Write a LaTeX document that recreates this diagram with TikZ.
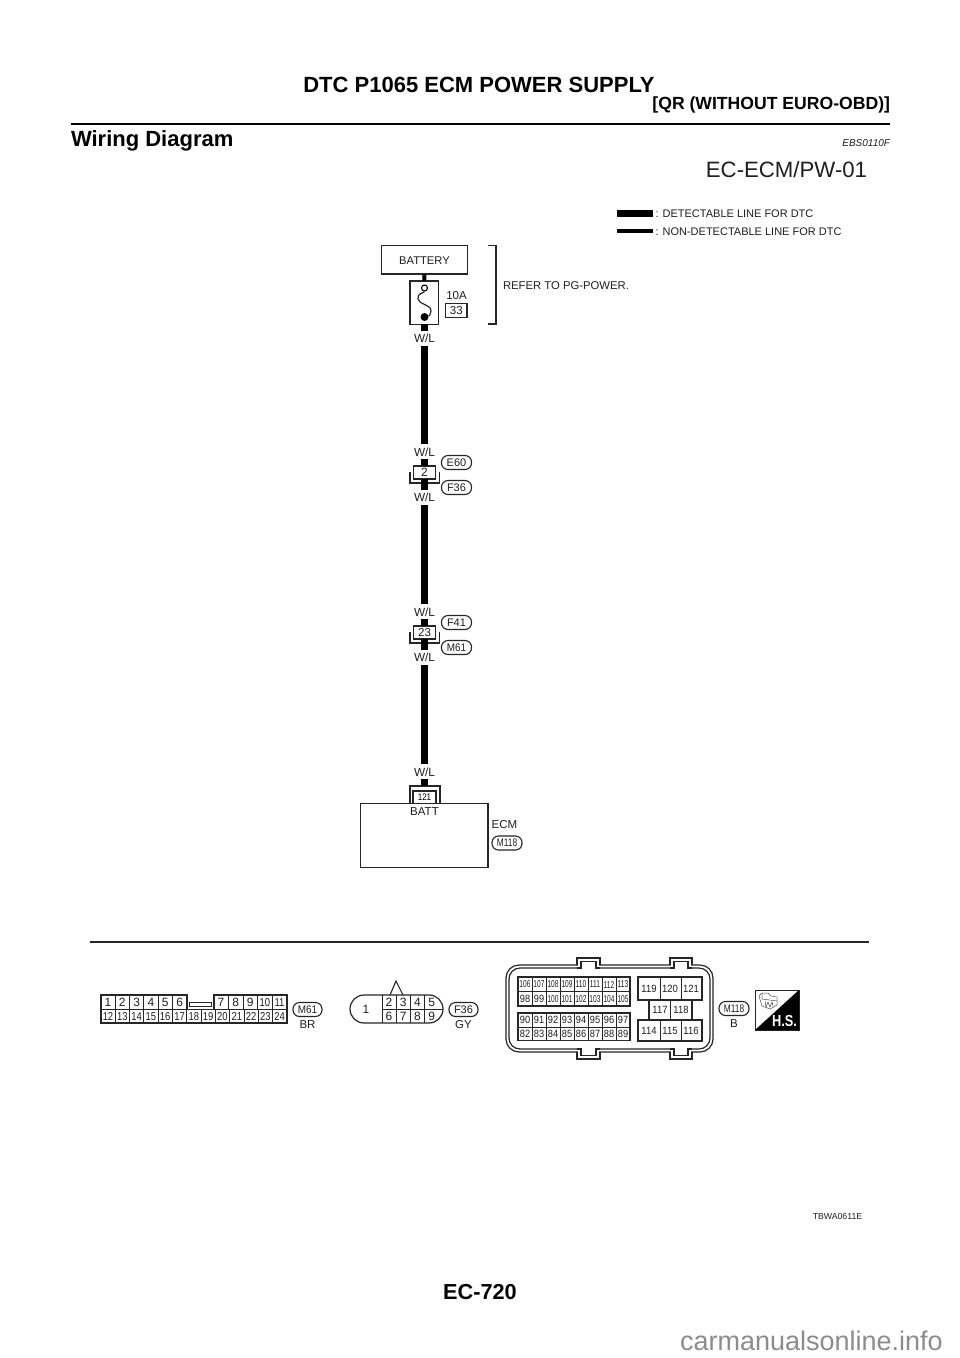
\documentclass[tikz,border=0pt]{standalone}
\usepackage{fontspec}
\setmainfont{Liberation Sans}
\tikzset{
  x=1pt,y=-1pt,
  txt/.style={inner sep=0pt,outer sep=0pt,text=black!88,font=\fontsize{#1}{#1}\selectfont},
  txt/.default=10,
  box/.style={draw=black!85,line width=1.1pt,inner sep=0pt,outer sep=0pt,fill=white,anchor=north west},
  tag/.style={draw=black!85,line width=1.1pt,rounded corners=6.5pt,minimum width=30pt,minimum height=14pt,inner sep=0pt,font=\fontsize{11}{11}\selectfont,text=black!88},
  thick wire/.style={line width=7pt,draw=black},
  thin wire/.style={line width=3.5pt,draw=black},
  cell/.style={draw=black!85,line width=1pt},
  outline/.style={draw=black!85,line width=1.2pt},
  num/.style={inner sep=0pt,text=black!88,font=\fontsize{#1}{#1}\selectfont},
  num/.default=10,
  hd/.style={inner sep=0pt,outer sep=0pt,text=black,font=\bfseries\fontsize{#1}{#1}\selectfont},
}
\begin{document}
\begin{tikzpicture}
\useasboundingbox (0,0) rectangle (960,1358);
\fill[white] (0,0) rectangle (960,1358);
% header
\node[hd=22] (title) at (479,85) {DTC P1065 ECM POWER SUPPLY};
\node[hd=17.6,anchor=east] (sub) at (890,105) {[QR (WITHOUT EURO-OBD)]};
\draw[line width=2.6pt] (71,124) -- (890,124);
\node[hd=22,anchor=west] (wd) at (71,141) {Wiring Diagram};
\node[txt=10,anchor=east,font=\itshape\fontsize{10}{10}\selectfont] (ebs) at (890,143) {EBS0110F};
\node[txt=22.2] (ecpw) at (786.5,170) {EC-ECM/PW-01};
% legend
\coordinate (l1a) at (617,213); \coordinate (l1b) at (653,213);
\coordinate (l2a) at (617,231); \coordinate (l2b) at (653,231);
\draw[thick wire] (l1a) -- (l1b);
\draw[thin wire] (l2a) -- (l2b);
\node[txt=11,anchor=west] (leg1) at (655.5,214) {: DETECTABLE LINE FOR DTC};
\node[txt=11,anchor=west] (leg2) at (655.5,232) {: NON-DETECTABLE LINE FOR DTC};
% battery, fuse
\node[box,minimum width=86pt,minimum height=28.5pt] (bat) at (381.5,245.5) {};
\node[txt=11.2] (batt) at (424.5,260.5) {BATTERY};
\node[box,minimum width=28.5pt,minimum height=43.5pt] (fuse) at (410,281) {};
\node[draw=black,line width=1.1pt,fill=white,circle,minimum size=6pt,inner sep=0pt] (fa) at (424.5,288) {};
\node[fill=black,circle,minimum size=8pt,inner sep=0pt] (fb) at (424.5,317) {};
\draw[line width=1.2pt,black!85] (fa.south) .. controls (424,293) and (417,293) .. (418,299) .. controls (419,305) and (431,304) .. (431,311) .. controls (431,314) and (429,316) .. (fb);
\draw[line width=4pt] (bat.south) -- (fuse.north);
\node[txt=11.5] (a10) at (456.5,296) {10A};
\node[box,minimum width=21.5pt,minimum height=14pt,txt=11.5] (f33) at (445.5,303.5) {33};
% bracket
\coordinate (b1) at (488,245.5); \coordinate (b2) at (496,245.5); \coordinate (b3) at (496,324); \coordinate (b4) at (488,324);
\draw[line width=1.1pt,black!85] (b1) -- (b2) -- (b3) -- (b4);
\node[txt=11.3,anchor=west] (ref) at (503,285.5) {REFER TO PG-POWER.};
% ecm
\node[box,minimum width=127.5pt,minimum height=64pt] (ecm) at (360.5,803.5) {};
\node[txt=11.5] (battl) at (424.5,811.5) {BATT};
\node[txt=11.5] (ecml) at (504.5,825) {ECM};
\node[tag,minimum width=30pt] (m118a) at (507,843) {\scalebox{.76}[1]{M118}};
% in-line connectors
\node[box,minimum width=22pt,minimum height=13pt,txt=12] (c2) at (413.5,466) {2};
\node[box,minimum width=22pt,minimum height=13pt,txt=11.5] (c23) at (413.5,626) {23};
\node[box,minimum width=23pt,minimum height=12.5pt] (c121) at (413,791) {\scalebox{.85}[1]{\fontsize{9.5}{9.5}\selectfont 121}};
\coordinate (c2b) at (424.5,483); \coordinate (c23b) at (424.5,643); \coordinate (c121t) at (424.5,786);
\draw[line width=1.1pt,black!85] (410,472) -- (410,483) -- (439.5,483) -- (439.5,472);
\draw[line width=1.1pt,black!85] (410,632) -- (410,643) -- (439.5,643) -- (439.5,632);
\draw[line width=1.1pt,black!85] (410,803) -- (410,786) -- (440,786) -- (440,803);
% wires
\coordinate (w0a) at (424.5,324); \coordinate (w0b) at (424.5,331);
\coordinate (w1a) at (424.5,346); \coordinate (w1b) at (424.5,444);
\coordinate (w2a) at (424.5,505); \coordinate (w2b) at (424.5,604);
\coordinate (w3a) at (424.5,665); \coordinate (w3b) at (424.5,764);
\coordinate (t2) at (424.5,459); \coordinate (d2) at (424.5,490);
\coordinate (t23) at (424.5,619); \coordinate (d23) at (424.5,650);
\coordinate (t121) at (424.5,779);
\draw[thick wire] (w0a) -- (w0b);
\draw[thick wire] (w1a) -- (w1b);
\draw[thick wire] (w2a) -- (w2b);
\draw[thick wire] (w3a) -- (w3b);
\draw[thick wire] (t2) -- (c2.north);
\draw[thick wire] (c2.south) -- (d2);
\draw[thick wire] (t23) -- (c23.north);
\draw[thick wire] (c23.south) -- (d23);
\draw[thick wire] (t121) -- (c121t);
\foreach \n/\y in {wl1/338,wl2/452,wl3/497,wl4/612,wl5/657,wl6/772}
  \node[txt=11.8] (\n) at (424.5,\y) {W/L};
\node[tag] (e60) at (456.5,462.5) {E60};
\node[tag] (f36a) at (456.5,487.5) {F36};
\node[tag] (f41) at (456.5,622.5) {F41};
\node[tag] (m61a) at (456.5,647.5) {\scalebox{.9}[1]{M61}};
% rule
\draw[line width=1.1pt,black!85] (90,942) -- (869,942);
% M61 connector
\draw[outline] (101,1023) -- (101,995) -- (187,995) -- (187,1009.5) -- (214,1009.5) -- (214,995) -- (287,995) -- (287,1023) -- cycle;
\foreach \i [count=\c from 0] in {1,...,6}{
  \draw[cell] ({101+14.33*\i},995) -- ({101+14.33*\i},1009.5);
  \node[num=12] (ma\i) at ({108+14.33*\c},1002.5) {\i};
}
\foreach \i [count=\c from 0] in {7,...,11}{
  \draw[cell] ({214+14.6*\c},995) -- ({214+14.6*\c},1009.5);
}
\foreach \i [count=\c from 0] in {7,8,9}
  \node[num=12] (ma\i) at ({221+14.6*\c},1002.5) {\i};
\foreach \i [count=\c from 3] in {10,11}
  \node[num=11.5,xscale=.82] (ma\i) at ({221+14.6*\c},1002.5) {\i};
\draw[cell] (101,1009.5) -- (287,1009.5);
\foreach \i [count=\c from 0] in {12,...,24}{
  \ifnum\c>0 \draw[cell] ({101+14.31*\c},1009.5) -- ({101+14.31*\c},1023);\fi
  \node[num=11.5,xscale=.82] (mb\i) at ({108+14.31*\c},1016.5) {\i};
}
\draw[cell] (189.5,1002) rectangle (211.5,1006);
\node[tag,minimum width=29pt] (m61b) at (307.5,1009.5) {\scalebox{.9}[1]{M61}};
\node[txt=11.5] (br) at (307.5,1025) {BR};
% F36 connector
\draw[outline] (382,995) -- (364,995) arc[start angle=270,end angle=90,radius=14] -- (429,1023) arc[start angle=90,end angle=-90,radius=14] -- cycle;
\draw[line width=1.1pt,black!85] (390,995) -- (396,981) -- (403,995);
\draw[cell] (382,1009) -- (443,1009);
\foreach \c in {0,1,2,3}{
  \draw[cell] ({382+14.3*\c},995) -- ({382+14.3*\c},1023);
}
\node[num=12] (f1) at (366,1009.5) {1};
\foreach \i [count=\c from 0] in {2,3,4,5}{
  \node[num=12] (fa\i) at ({389+14.2*\c},1002.5) {\i};
  \pgfmathtruncatemacro{\j}{\i+4}
  \node[num=12] (fb\j) at ({389+14.2*\c},1016) {\j};
}
\node[tag,minimum width=29pt] (f36b) at (463.5,1009.5) {F36};
\node[txt=11.5] (gy) at (463.5,1025) {GY};
% M118 connector
\draw[outline,rounded corners=13pt] (506,965) rectangle (713,1052);
\draw[outline,rounded corners=11pt] (509,968) rectangle (710,1049);
\foreach \x/\X in {577/600,670/692}{
  \fill[white] (\x+.6,964) rectangle (\X-.6,969.5);
  \fill[white] (\x+.6,1047.5) rectangle (\X-.6,1053);
  \draw[outline] (\x,965) -- (\x,958) -- (\X,958) -- (\X,965);
  \draw[outline] (\x,1052) -- (\x,1059) -- (\X,1059) -- (\X,1052);
  \draw[outline] (\x,968) -- (\x+4,968) -- (\x+4,961.5) -- (\X-4,961.5) -- (\X-4,968) -- (\X,968);
  \draw[outline] (\x,1049) -- (\x+4,1049) -- (\x+4,1055.5) -- (\X-4,1055.5) -- (\X-4,1049) -- (\X,1049);
}
\draw[outline] (518,977) rectangle (630,1006);
\draw[outline] (518,1013) rectangle (630,1040.5);
\draw[cell] (518,991.5) -- (630,991.5);
\draw[cell] (518,1027) -- (630,1027);
\foreach \i in {1,...,7}{
  \draw[cell] ({518+14*\i},977) -- ({518+14*\i},1006);
  \draw[cell] ({518+14*\i},1013) -- ({518+14*\i},1040.5);
}
\foreach \i [count=\c from 0] in {106,...,113}
  \node[num=10,xscale=.66] (r\i) at ({525+14*\c},984.5) {\i};
\foreach \i [count=\c from 0] in {98,99}
  \node[num=10.5,xscale=.88] (r\i) at ({525+14*\c},999) {\i};
\foreach \i [count=\c from 2] in {100,...,105}
  \node[num=10,xscale=.66] (r\i) at ({525+14*\c},999) {\i};
\foreach \i [count=\c from 0] in {90,...,97}
  \node[num=10.5,xscale=.88] (r\i) at ({525+14*\c},1020) {\i};
\foreach \i [count=\c from 0] in {82,...,89}
  \node[num=10.5,xscale=.88] (r\i) at ({525+14*\c},1034) {\i};
\draw[outline] (638,977) rectangle (702,1000);
\draw[outline] (638,1020) rectangle (702,1041);
\draw[outline] (649,1000) -- (649,1020);
\draw[outline] (692,1000) -- (692,1020);
\foreach \x in {660,681}{
  \draw[cell] (\x,977) -- (\x,1000);
  \draw[cell] (\x,1020) -- (\x,1041);
}
\draw[cell] (670.5,1000) -- (670.5,1020);
\foreach \i/\x/\y in {119/649/988.5,120/670/988.5,121/691/988.5,117/660/1010,118/681/1010,114/649/1031,115/670/1031,116/691/1031}
  \node[num=10.5,xscale=.9] (p\i) at (\x,\y) {\i};
\node[tag,minimum width=30pt] (m118b) at (734,1008.5) {\scalebox{.76}[1]{M118}};
\node[txt=11.5] (bl) at (734,1024) {B};
% H.S. icon
\draw[line width=.9pt,black!85] (755,990) rectangle (799,1030);
\fill[black] (799,990) -- (799,1030) -- (755,1030) -- cycle;
\node[inner sep=0pt,text=white,font=\bfseries\fontsize{16}{16}\selectfont,xscale=.8] (hs) at (784.5,1021) {H.S.};
\draw[line width=.5pt,black!70] (759,996) -- (762,993) -- (768,993) -- (771,996) -- (777,997) -- (777,1005) -- (770,1009) -- (762,1006) -- cycle;
\draw[line width=.5pt,black!70] (762,993) -- (762,999) -- (777,1001);
\draw[line width=.5pt,black!70] (765,1001) -- (766,1007) -- (768,1002) -- (770,1007) -- (772,1002) -- (773,1006);
% footer
\node[txt=8.7] (tb) at (837.5,1216.5) {TBWA0611E};
\node[hd=21.7] (pg) at (480,1292) {EC-720};
\node[inner sep=0pt,anchor=base east,text=black!45,font=\fontsize{27}{27}\selectfont] (wm) at (943,1350) {carmanualsonline.info};
\end{tikzpicture}
\end{document}
